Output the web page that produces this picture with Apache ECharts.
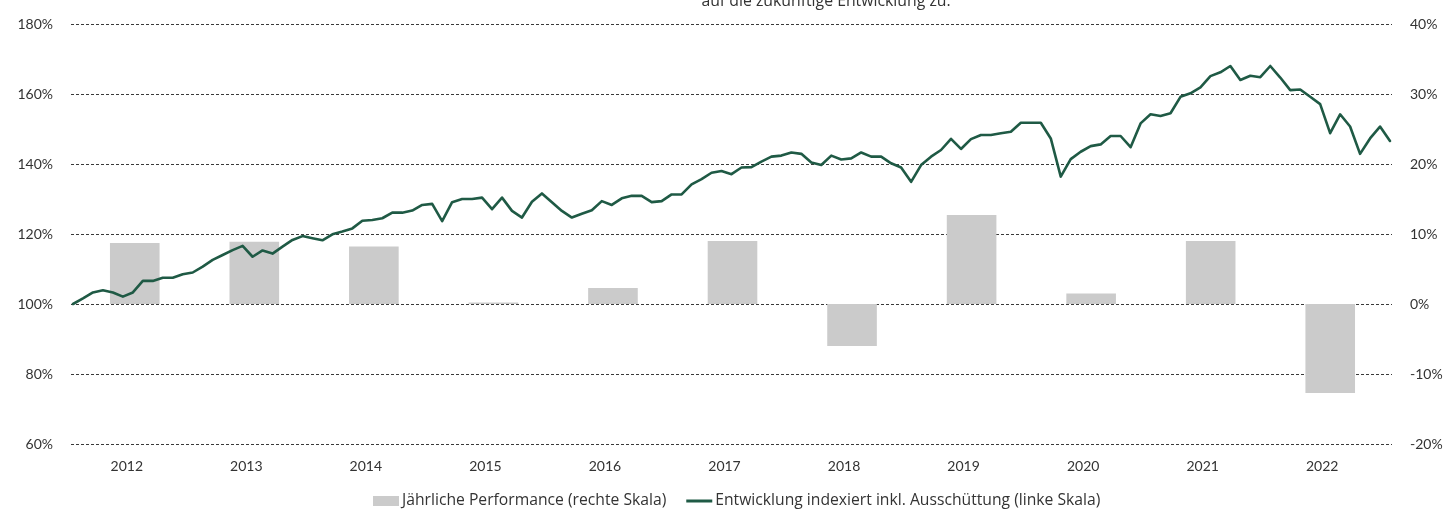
<!DOCTYPE html>
<html>
<head>
<meta charset="utf-8">
<script src="https://cdn.jsdelivr.net/npm/echarts@6/dist/echarts.min.js"></script>
<style>
html,body{margin:0;padding:0;background:#fff;}
#c{width:1449px;height:509px;}
</style>
</head>
<body>
<div id="c"></div>
<script>
// ---- data ----
const years = ['2012','2013','2014','2015','2016','2017','2018','2019','2020','2021','2022'];
const annualPerf = [8.7, 8.9, 8.2, 0.2, 2.3, 9.0, -6.0, 12.7, 1.5, 9.0, -12.7];
const indexValues = [
  100.0, 101.6, 103.3, 103.9, 103.3, 102.1, 103.3, 106.6, 106.6, 107.5, 107.5, 108.5,
  109.0, 110.7, 112.6, 114.0, 115.4, 116.6, 113.5, 115.3, 114.4, 116.4, 118.3, 119.4,
  118.8, 118.2, 119.9, 120.7, 121.6, 123.8, 124.0, 124.5, 126.1, 126.1, 126.7, 128.3,
  128.6, 123.7, 129.1, 130.0, 130.0, 130.4, 127.1, 130.4,
  126.6, 124.7, 129.2, 131.6, 129.1, 126.6, 124.7, 125.8, 126.8, 129.4, 128.3, 130.2,
  130.9, 130.9, 129.1, 129.4, 131.3, 131.3, 134.2, 135.7, 137.5, 138.0, 137.1, 139.0,
  139.1, 140.7, 142.1, 142.4, 143.3, 142.9, 140.4, 139.7, 142.4, 141.3, 141.6, 143.3,
  142.1, 142.1, 140.2, 139.0, 134.9, 139.7, 142.1, 144.0, 147.2,
  144.3, 147.1, 148.3, 148.3, 148.8, 149.2, 151.8, 151.8, 151.8, 147.3, 136.4, 141.4,
  143.5, 145.1, 145.6, 148.0, 148.0, 144.8, 151.6, 154.2, 153.7, 154.5, 159.2, 160.2,
  161.9, 165.1, 166.2, 168.0, 164.0, 165.2, 164.8, 168.0, 164.7, 161.1, 161.3, 159.2,
  157.1, 148.8, 154.2, 150.7, 142.9, 147.3, 150.7, 146.6
];
const leftTicks = {min: 60, max: 180, interval: 20};
const rightTicks = {min: -20, max: 40, interval: 10};
const titleText = 'auf die zukünftige Entwicklung zu.';
const barName = 'Jährliche Performance (rechte Skala)';
const lineName = 'Entwicklung indexiert inkl. Ausschüttung (linke Skala)';

const FONT = 'Lato';
const WIDE = 'Open Sans';
const TXT = '#333333';
const GREEN = '#1f5a45';
const chart = echarts.init(document.getElementById('c'), null, {renderer: 'canvas'});
chart.setOption({
  animation: false,
  backgroundColor: '#ffffff',
  textStyle: {fontFamily: FONT},
  title: {
    text: titleText,
    left: 821, top: -12, textAlign: 'center',
    textStyle: {fontFamily: WIDE, fontSize: 15.8, fontWeight: 'normal', color: TXT}
  },
  grid: [
    {left: 71, right: 57, top: 24, bottom: 65, containLabel: false},
    {left: 75, right: 59, top: 24, bottom: 65, containLabel: false}
  ],
  legend: {
    left: 368, top: 488,
    itemWidth: 26, itemHeight: 10, itemGap: 20,
    textStyle: {fontFamily: WIDE, fontSize: 15.7, color: TXT, padding: [0,0,0,-2]},
    data: [
      {name: barName, icon: 'rect'},
      {name: lineName, icon: 'path://M0,0 H26 V3 H0 Z'}
    ]
  },
  xAxis: [
    {
      gridIndex: 0, type: 'value', min: -0.2, max: 132.2, show: false,
      splitLine: {show: false}
    },
    {
      gridIndex: 1, type: 'category', data: years, position: 'bottom',
      axisLine: {show: false}, axisTick: {show: false},
      axisLabel: {fontFamily: FONT, fontSize: 14, color: TXT, margin: 15, padding: [0, 16, 0, 0]}
    }
  ],
  yAxis: [
    {
      gridIndex: 0, type: 'value', position: 'left',
      min: leftTicks.min, max: leftTicks.max, interval: leftTicks.interval,
      axisLine: {show: false}, axisTick: {show: false},
      axisLabel: {fontFamily: FONT, fontSize: 14, color: TXT, margin: 18, formatter: '{value}%'},
      splitLine: {show: true, lineStyle: {color: '#3a3a3a', width: 1, type: [3, 2]}}
    },
    {
      gridIndex: 0, type: 'value', position: 'right',
      min: rightTicks.min, max: rightTicks.max, interval: rightTicks.interval,
      axisLine: {show: false}, axisTick: {show: false},
      axisLabel: {fontFamily: FONT, fontSize: 14, color: TXT, margin: 18, formatter: '{value}%'},
      splitLine: {show: false}
    },
    {
      gridIndex: 1, type: 'value', show: false,
      min: rightTicks.min, max: rightTicks.max, interval: rightTicks.interval,
      splitLine: {show: false}
    }
  ],
  series: [
    {
      name: barName, type: 'bar', xAxisIndex: 1, yAxisIndex: 2,
      data: annualPerf, barWidth: '41.5%',
      itemStyle: {color: '#cbcbcb'},
      z: 1
    },
    {
      name: lineName, type: 'line', xAxisIndex: 0, yAxisIndex: 0,
      data: indexValues.map((v, i) => [i, v]),
      symbol: 'none', showSymbol: false,
      lineStyle: {color: GREEN, width: 2.6, join: 'round', cap: 'round'},
      itemStyle: {color: GREEN},
      z: 3
    }
  ]
});
</script>
</body>
</html>
